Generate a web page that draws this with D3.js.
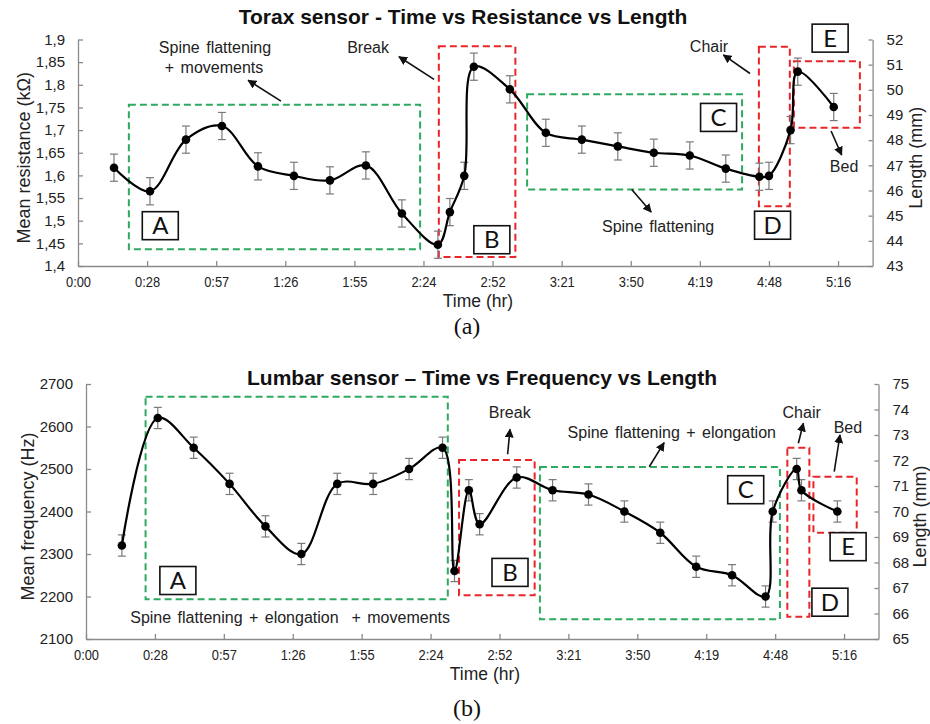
<!DOCTYPE html>
<html>
<head>
<meta charset="utf-8">
<script src="https://cdn.jsdelivr.net/npm/d3@7"></script>
<style>
  html, body { margin: 0; padding: 0; background: #fff; }
  svg { display: block; font-family: "Liberation Sans", Arial, sans-serif; }
</style>
</head>
<body>
<svg id="chart" width="930" height="724"></svg>
<script>
// ---- Time axis (minutes), shared by both panels ----
const timeTicks = [0, 28.8, 57.6, 86.4, 115.2, 144, 172.8, 201.6, 230.4, 259.2, 288, 316.8];
const timeTickLabels = ["0:00", "0:28", "0:57", "1:26", "1:55", "2:24", "2:52", "3:21", "3:50", "4:19", "4:48", "5:16"];
const timeMax = 331.2;

// ---- Panel (a): torax sensor ----
const toraxTime = [15, 30, 45, 60, 75, 90, 105, 120, 135, 150, 155, 161, 165, 180, 195, 210, 225, 240, 255, 270, 284, 288, 297, 300, 315];
const toraxResistance = [1.617, 1.565, 1.679, 1.709, 1.620, 1.599, 1.589, 1.622, 1.516, 1.447, 1.519, 1.599, 1.840, 1.790, 1.694, 1.679, 1.664, 1.650, 1.644, 1.615, 1.597, 1.599, 1.700, 1.829, 1.751];
const toraxError = [0.03, 0.03, 0.03, 0.03, 0.03, 0.03, 0.03, 0.03, 0.03, 0.03, 0.03, 0.03, 0.03, 0.03, 0.03, 0.03, 0.03, 0.03, 0.03, 0.03, 0.03, 0.03, 0.03, 0.03, 0.03];
const toraxTicks = [1.4, 1.45, 1.5, 1.55, 1.6, 1.65, 1.7, 1.75, 1.8, 1.85, 1.9];
const toraxTickLabels = ["1,4", "1,45", "1,5", "1,55", "1,6", "1,65", "1,7", "1,75", "1,8", "1,85", "1,9"];
const toraxLengthTicks = [43, 44, 45, 46, 47, 48, 49, 50, 51, 52];

// phase regions [t0, t1, v0, v1, kind]
const toraxRegions = [
  [21.2, 142.6, 1.437, 1.756, "green"],
  [150.4, 182.3, 1.420, 1.885, "red"],
  [187.2, 276.8, 1.569, 1.779, "green"],
  [283.8, 296.7, 1.532, 1.884, "red"],
  [298.4, 325.9, 1.705, 1.852, "red"]
];
const toraxLetters = [["A", 34.3, 1.489], ["B", 172.5, 1.458], ["C", 267, 1.728], ["D", 289.5, 1.490], ["E", 313.5, 1.903]];
const toraxNotes = [
  ["Spine flattening", 57.1, 1.870],
  ["+ movements", 56.7, 1.826],
  ["Break", 120.9, 1.870],
  ["Chair", 263, 1.872],
  ["Bed", 319.3, 1.608],
  ["Spine flattening", 241.8, 1.475]
];
const toraxArrows = [
  [84.6, 1.764, 70.9, 1.810],
  [148.4, 1.812, 133.8, 1.862],
  [280.1, 1.825, 269, 1.866],
  [313.9, 1.698, 318.3, 1.645],
  [230.8, 1.569, 238.9, 1.519]
];

// ---- Panel (b): lumbar sensor ----
const lumbarTime = [15, 30, 45, 60, 75, 90, 105, 120, 135, 149, 154, 160, 164.5, 180, 195, 210, 225, 240, 255, 270, 284, 287, 297, 299, 314];
const lumbarFrequency = [2320, 2620, 2550, 2465, 2365, 2300, 2465, 2465, 2500, 2550, 2260, 2450, 2370, 2480, 2450, 2440, 2400, 2350, 2270, 2250, 2200, 2400, 2500, 2450, 2400];
const lumbarError = [25, 25, 25, 25, 25, 25, 25, 25, 25, 25, 25, 25, 25, 25, 25, 25, 25, 25, 25, 25, 25, 25, 25, 25, 25];
const lumbarTicks = [2100, 2200, 2300, 2400, 2500, 2600, 2700];
const lumbarTickLabels = ["2100", "2200", "2300", "2400", "2500", "2600", "2700"];
const lumbarLengthTicks = [65, 66, 67, 68, 69, 70, 71, 72, 73, 74, 75];

const lumbarRegions = [
  [24.9, 151.2, 2193.4, 2670.1, "green"],
  [155.9, 187.5, 2202.8, 2521.2, "red"],
  [189.7, 290.0, 2146.4, 2504.7, "green"],
  [293.1, 302.3, 2152.5, 2550.1, "red"],
  [304.0, 322.1, 2350.1, 2481.9, "red"]
];
const lumbarLetters = [["A", 38.4, 2237.6], ["B", 177.2, 2256.7], ["C", 275.7, 2451.3], ["D", 310.9, 2186.6], ["E", 318.5, 2317.2]];
const lumbarNotes = [
  ["Spine flattening + elongation  + movements", 85.3, 2136.9],
  ["Break", 177.1, 2619.3],
  ["Spine flattening + elongation", 244.8, 2573.6],
  ["Chair", 299.1, 2619.3],
  ["Bed", 318.4, 2585.4]
];
const lumbarArrows = [
  [176.2, 2534.6, 177.2, 2593.4],
  [235.4, 2505.4, 241.6, 2561.9],
  [297.7, 2560.5, 299.8, 2607.5],
  [312.7, 2493.6, 315.1, 2580.0]
];

const svg = d3.select("#chart");
const colors = { green: "#2daa5f", red: "#e8262a" };

svg.append("defs").append("marker")
  .attr("id", "head")
  .attr("viewBox", "0 0 10 10")
  .attr("refX", 9).attr("refY", 5)
  .attr("markerWidth", 9).attr("markerHeight", 9)
  .attr("markerUnits", "userSpaceOnUse")
  .attr("orient", "auto")
  .append("path").attr("d", "M0,0 L10,5 L0,10 Z").attr("fill", "#111");

function drawPanel(cfg) {
  const g = svg.append("g");
  const x = d3.scaleLinear().domain([0, timeMax]).range([cfg.left, cfg.right]);
  const y = d3.scaleLinear().domain(cfg.yDomain).range([cfg.bottom, cfg.top]);
  const y2 = d3.scaleLinear().domain(cfg.y2Domain).range([cfg.bottom, cfg.top]);

  // title
  g.append("text")
    .attr("x", cfg.titleX).attr("y", cfg.titleY)
    .attr("text-anchor", "middle")
    .attr("font-size", 21).attr("font-weight", "bold").attr("fill", "#111")
    .text(cfg.title);

  // axes
  const axisColor = "#8a8a8a";
  const xAxis = g.append("g").attr("transform", `translate(0,${cfg.bottom})`)
    .call(d3.axisBottom(x).tickValues(timeTicks)
      .tickFormat((d, i) => timeTickLabels[i]).tickSizeInner(-5).tickSizeOuter(0).tickPadding(10));
  xAxis.selectAll("text").attr("font-size", 15).attr("fill", "#222")
    .attr("transform", "scale(0.86,1)");

  const yAxis = g.append("g").attr("transform", `translate(${cfg.left},0)`)
    .call(d3.axisLeft(y).tickValues(cfg.yTicks)
      .tickFormat((d, i) => cfg.yTickLabels[i]).tickSizeInner(-5).tickSizeOuter(0).tickPadding(13));
  yAxis.selectAll("text").attr("font-size", 15).attr("fill", "#222");

  const y2Axis = g.append("g").attr("transform", `translate(${cfg.right},0)`)
    .call(d3.axisRight(y2).tickValues(cfg.y2Ticks).tickFormat(d3.format("d"))
      .tickSizeInner(-4).tickSizeOuter(0).tickPadding(14));
  y2Axis.selectAll("text").attr("font-size", 15).attr("fill", "#222");

  [xAxis, yAxis, y2Axis].forEach(a => {
    a.attr("font-family", null);
    a.selectAll("path, line").attr("stroke", axisColor).attr("stroke-width", 1.3);
  });

  // axis titles
  g.append("text")
    .attr("x", cfg.xTitleX).attr("y", cfg.xTitleY)
    .attr("text-anchor", "middle").attr("font-size", 17.5).attr("fill", "#222")
    .text("Time (hr)");
  g.append("text")
    .attr("transform", `translate(${cfg.yTitleX},${(cfg.top + cfg.bottom) / 2 + 5}) rotate(-90)`)
    .attr("text-anchor", "middle").attr("font-size", 18).attr("fill", "#222")
    .text(cfg.yTitle);
  g.append("text")
    .attr("transform", `translate(${cfg.y2TitleX},${(cfg.top + cfg.bottom) / 2 + 5}) rotate(-90)`)
    .attr("text-anchor", "middle").attr("font-size", 18).attr("fill", "#222")
    .text("Length (mm)");

  // dashed phase regions
  g.selectAll(".region").data(cfg.regions).enter().append("rect")
    .attr("x", d => x(d[0])).attr("y", d => y(d[3]))
    .attr("width", d => x(d[1]) - x(d[0])).attr("height", d => y(d[2]) - y(d[3]))
    .attr("fill", "none").attr("stroke", d => colors[d[4]])
    .attr("stroke-width", 2).attr("stroke-dasharray", "7,4");

  // series: smoothed line, error bars, markers
  const pts = cfg.times.map((t, i) => ({ t, v: cfg.values[i], e: cfg.errors[i] }));
  const eb = g.append("g").attr("stroke", "#7a7a7a").attr("stroke-width", 1.2);
  pts.forEach(p => {
    eb.append("line").attr("x1", x(p.t)).attr("x2", x(p.t)).attr("y1", y(p.v - p.e)).attr("y2", y(p.v + p.e));
    eb.append("line").attr("x1", x(p.t) - 4).attr("x2", x(p.t) + 4).attr("y1", y(p.v - p.e)).attr("y2", y(p.v - p.e));
    eb.append("line").attr("x1", x(p.t) - 4).attr("x2", x(p.t) + 4).attr("y1", y(p.v + p.e)).attr("y2", y(p.v + p.e));
  });
  g.append("path").datum(pts)
    .attr("d", d3.line().x(p => x(p.t)).y(p => y(p.v)).curve(d3.curveCatmullRom.alpha(0.5)))
    .attr("fill", "none").attr("stroke", "#000").attr("stroke-width", 2.2);
  g.selectAll(".pt").data(pts).enter().append("circle")
    .attr("cx", p => x(p.t)).attr("cy", p => y(p.v)).attr("r", 4.3).attr("fill", "#000");

  // letter boxes
  const lb = g.selectAll(".letter").data(cfg.letters).enter().append("g")
    .attr("transform", d => `translate(${x(d[1])},${y(d[2])})`);
  lb.append("rect").attr("x", -18).attr("y", -14).attr("width", 36).attr("height", 28)
    .attr("fill", "#fff").attr("stroke", "#111").attr("stroke-width", 1.6);
  lb.append("text").attr("text-anchor", "middle").attr("y", 8.5)
    .attr("font-family", "Lato, 'Open Sans', sans-serif").attr("font-size", 24).attr("fill", "#111")
    .text(d => d[0]);

  // notes and arrows
  g.selectAll(".note").data(cfg.notes).enter().append("text")
    .attr("x", d => x(d[1])).attr("y", d => y(d[2]))
    .attr("text-anchor", "middle").attr("font-size", 16).attr("fill", "#222")
    .attr("word-spacing", 2)
    .style("white-space", "pre")
    .text(d => d[0]);
  g.selectAll(".arrow").data(cfg.arrows).enter().append("line")
    .attr("x1", d => x(d[0])).attr("y1", d => y(d[1]))
    .attr("x2", d => x(d[2])).attr("y2", d => y(d[3]))
    .attr("stroke", "#111").attr("stroke-width", 1.6)
    .attr("marker-end", "url(#head)");

  // panel caption
  g.append("text")
    .attr("x", cfg.captionX).attr("y", cfg.captionY)
    .attr("text-anchor", "middle")
    .attr("font-family", "'Liberation Serif', 'Times New Roman', serif")
    .attr("font-size", 24).attr("fill", "#111")
    .text(cfg.caption);
}

drawPanel({
  title: "Torax sensor - Time vs Resistance vs Length",
  titleX: 463, titleY: 24,
  left: 78, right: 872.6, top: 39.5, bottom: 266,
  yDomain: [1.4, 1.9], yTicks: toraxTicks, yTickLabels: toraxTickLabels,
  y2Domain: [43, 52], y2Ticks: toraxLengthTicks,
  yTitle: "Mean resistance (kΩ)", yTitleX: 30,
  y2TitleX: 922,
  xTitleX: 478, xTitleY: 307,
  times: toraxTime, values: toraxResistance, errors: toraxError,
  regions: toraxRegions, letters: toraxLetters, notes: toraxNotes, arrows: toraxArrows,
  caption: "(a)", captionX: 467, captionY: 334
});

drawPanel({
  title: "Lumbar sensor \u2013 Time vs Frequency vs Length",
  titleX: 482, titleY: 385,
  left: 86, right: 878.5, top: 384, bottom: 639,
  yDomain: [2100, 2700], yTicks: lumbarTicks, yTickLabels: lumbarTickLabels,
  y2Domain: [65, 75], y2Ticks: lumbarLengthTicks,
  yTitle: "Mean frequency (Hz)", yTitleX: 34,
  y2TitleX: 926,
  xTitleX: 485, xTitleY: 680,
  times: lumbarTime, values: lumbarFrequency, errors: lumbarError,
  regions: lumbarRegions, letters: lumbarLetters, notes: lumbarNotes, arrows: lumbarArrows,
  caption: "(b)", captionX: 467, captionY: 716
});
</script>
</body>
</html>
